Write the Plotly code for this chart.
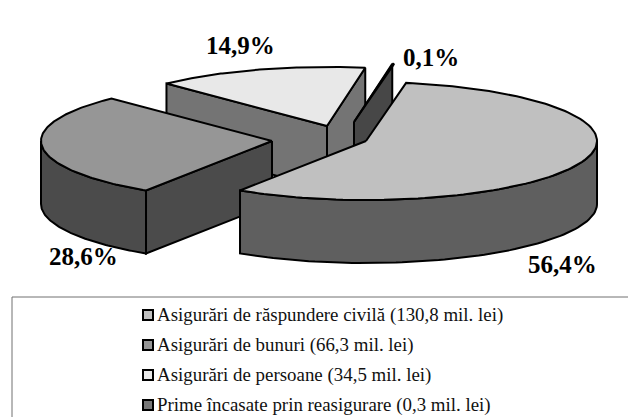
import numpy as np
import plotly.graph_objects as go

categories = ["Asigurări de răspundere civilă (130,8 mil. lei)",
              "Asigurări de bunuri (66,3 mil. lei)",
              "Asigurări de persoane (34,5 mil. lei)",
              "Prime încasate prin reasigurare (0,3 mil. lei)"]
values = [130.8, 66.3, 34.5, 0.3]
pct_labels = ["56,4%", "28,6%", "14,9%", "0,1%"]

W, H = 628, 417
RX, RY, DEPTH = 231, 59, 63
START = 80.0
apex = [(366, 141), (272, 141), (327, 126), (354, 122)]
top_col = ["#c0c0c0", "#969696", "#e8e8e8", "#6a6a6a"]
rim_col = ["#5f5f5f", "#4b4b4b", "#747474", "#474747"]
# which radial walls of each slice face the viewer: "a" = first edge, "b" = last edge
walls = ["", "a", "ab", "a"]
label_pos = [(562, 264), (83, 256), (240, 45), (431, 57)]
legend_col = ["#c0c0c0", "#969696", "#e8e8e8", "#777777"]
legend_y = [315, 345, 375, 405]

total = sum(values)
sweeps = [v / total * 360 for v in values]
ends = START - np.cumsum(sweeps)
starts = np.concatenate([[START], ends[:-1]])

fig = go.Figure()


def poly(xs, ys, fill):
    xs, ys = list(xs), list(ys)
    fig.add_trace(go.Scatter(x=xs + xs[:1], y=ys + ys[:1], mode="lines", fill="toself",
                             fillcolor=fill, line=dict(color="black", width=2),
                             hoverinfo="skip", showlegend=False))


def point(i, deg):
    cx, cy = apex[i]
    t = np.radians(deg)
    return cx + RX * np.cos(t), cy - RY * np.sin(t)


def draw(i):
    cx, cy = apex[i]
    a, b = starts[i], ends[i]  # clockwise: a > b
    for name, deg in (("a", a), ("b", b)):
        if name in walls[i]:
            px, py = point(i, deg)
            poly([cx, px, px, cx], [cy, py, py + DEPTH, cy + DEPTH], rim_col[i])
    # outer rim: only the front half of the ellipse faces the viewer
    lo, hi = max(b, -180), min(a, 0)
    if hi > lo:
        ts = np.linspace(hi, lo, 80)
        pts = [point(i, d) for d in ts]
        xs = [p[0] for p in pts]
        ys = [p[1] for p in pts]
        poly(xs + xs[::-1], ys + [y + DEPTH for y in ys[::-1]], rim_col[i])
    # top face
    ts = np.linspace(a, b, 120)
    pts = [point(i, d) for d in ts]
    poly([cx] + [p[0] for p in pts], [cy] + [p[1] for p in pts], top_col[i])


for i in (2, 3, 1, 0):
    draw(i)

for (x, y), t in zip(label_pos, pct_labels):
    fig.add_annotation(x=x, y=y, text=f"<b>{t}</b>", showarrow=False,
                       font=dict(family="Liberation Serif", size=25, color="black"))

fig.add_shape(type="rect", x0=12, y0=297, x1=W + 20, y1=H + 20,
              line=dict(color="#707070", width=1), fillcolor="white", layer="below")

fig.add_trace(go.Scatter(x=[148] * 4, y=legend_y, mode="markers", hoverinfo="skip", showlegend=False,
                         marker=dict(symbol="square", size=10, color=legend_col,
                                     line=dict(color="black", width=2))))
for y, t in zip(legend_y, categories):
    fig.add_annotation(x=155, y=y, text=t, showarrow=False, xanchor="left",
                       font=dict(family="Liberation Serif", size=18.9, color="#111111"))

fig.update_layout(width=W, height=H, margin=dict(l=0, r=0, t=0, b=0),
                  paper_bgcolor="white", plot_bgcolor="white", showlegend=False,
                  xaxis=dict(range=[0, W], visible=False, fixedrange=True),
                  yaxis=dict(range=[H, 0], visible=False, fixedrange=True))
fig.write_html("out.html", config={"displayModeBar": False},
               post_script="document.body.style.margin='0';document.documentElement.style.overflow='hidden';")
